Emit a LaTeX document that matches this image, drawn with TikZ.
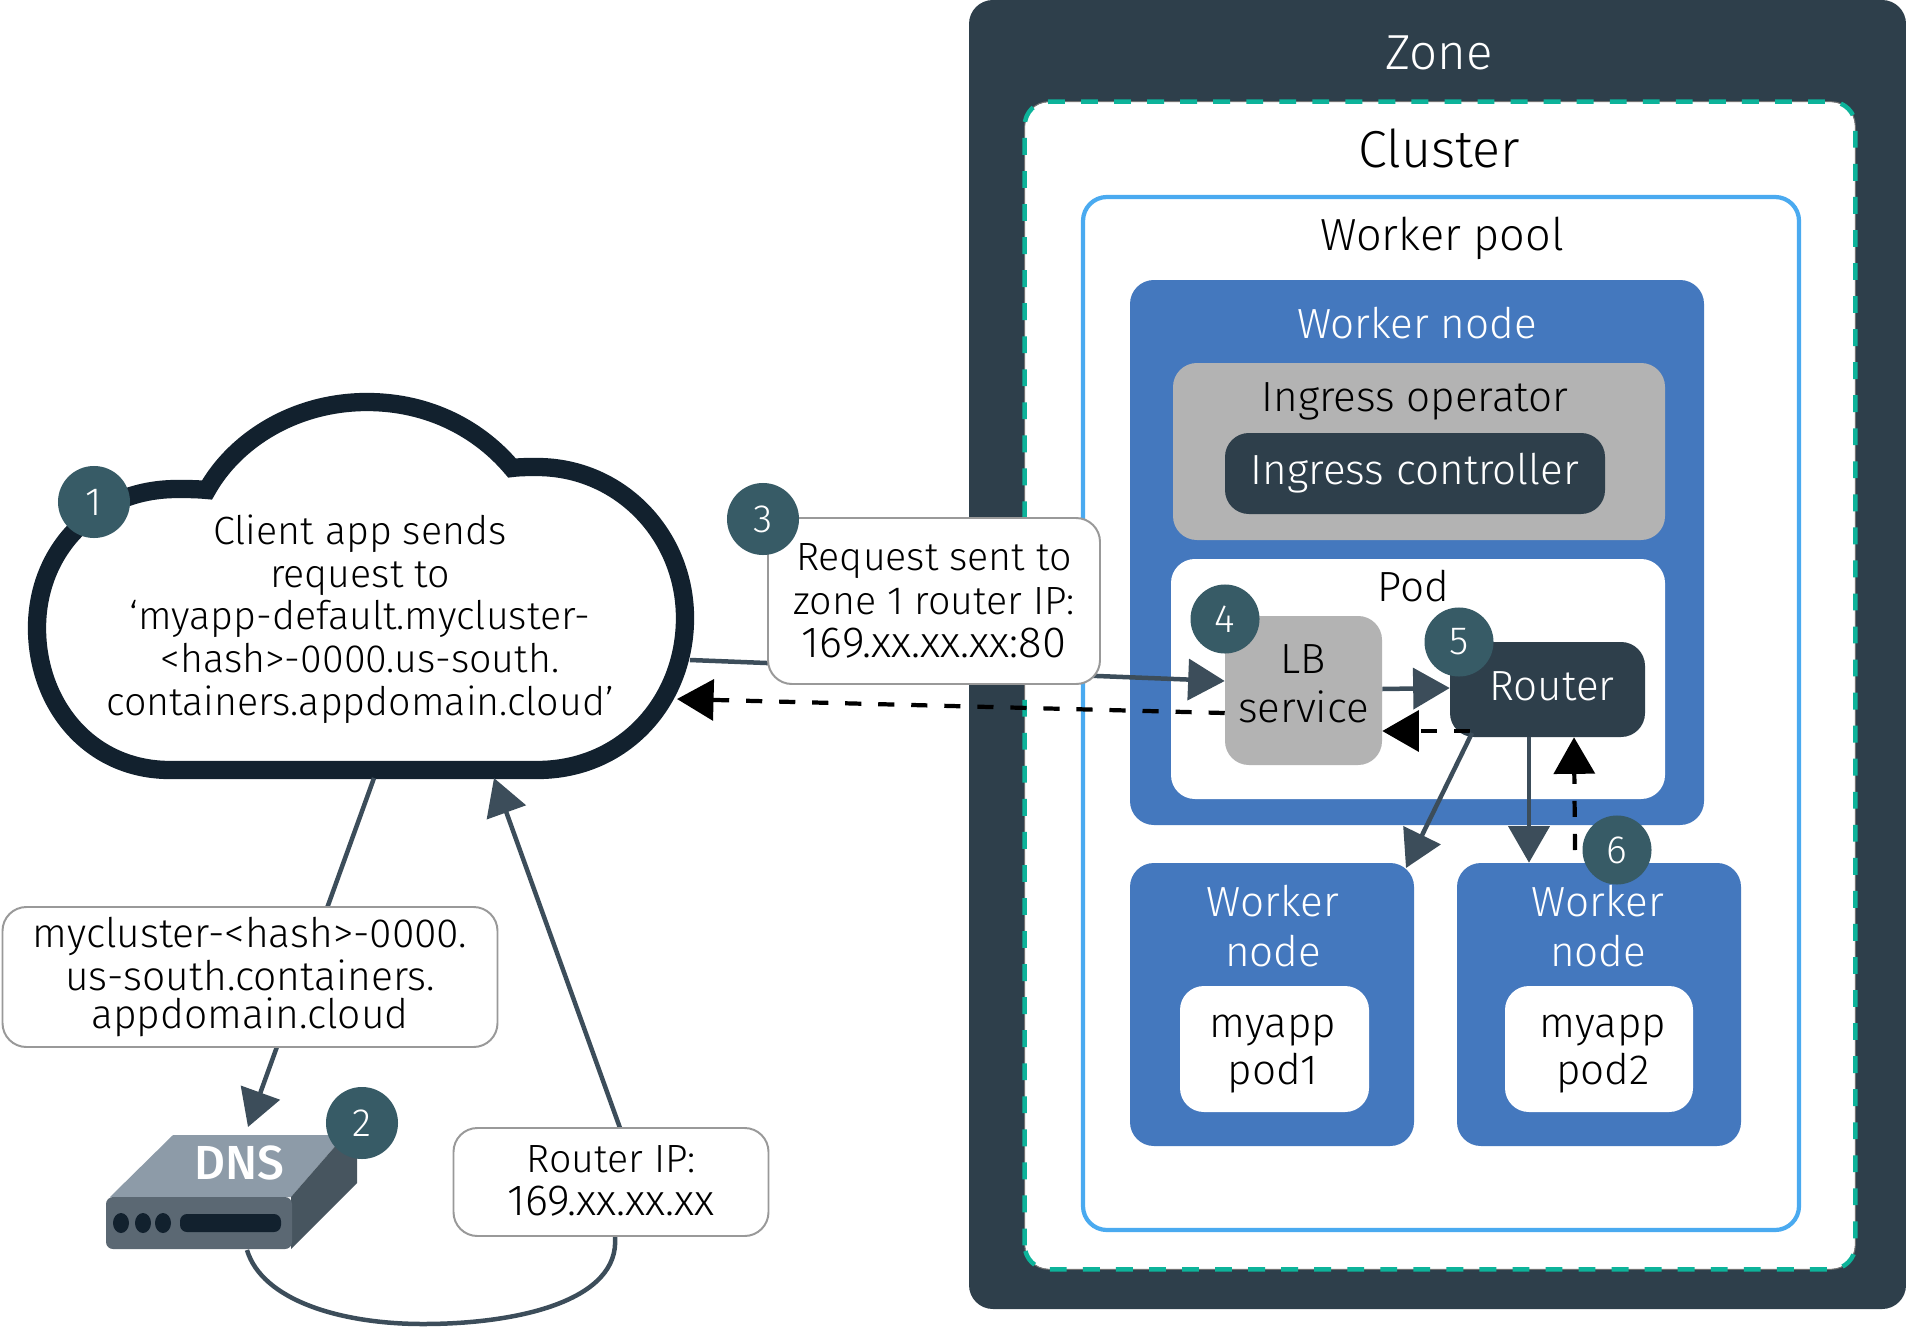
\documentclass[tikz,border=0pt]{standalone}
\usepackage{fontspec}
\setmainfont{Fira Sans Light}[BoldFont={Fira Sans Medium}]
\usetikzlibrary{arrows.meta}

\definecolor{zonedark}{HTML}{2E3F4B}
\definecolor{clusterteal}{HTML}{0DB39A}
\definecolor{poolblue}{HTML}{4AAAF0}
\definecolor{nodeblue}{HTML}{4478BE}
\definecolor{opgrey}{HTML}{B3B3B3}
\definecolor{badgeteal}{HTML}{375B66}
\definecolor{cloudink}{HTML}{12212E}
\definecolor{wiregrey}{HTML}{3C4D5A}
\definecolor{dnstop}{HTML}{8D9BA8}
\definecolor{dnsside}{HTML}{47555F}
\definecolor{dnsfront}{HTML}{5B6873}

\newcommand{\fsize}[2]{\fontsize{#1}{#2}\selectfont}

\begin{document}
\begin{tikzpicture}[x=0.025cm, y=-0.025cm,
  wh/.style 2 args = {minimum width=#1*0.025cm, minimum height=#2*0.025cm,
    inner sep=0pt, align=center},
  panel/.style = {shape=rectangle, rounded corners=17pt},
  callout/.style = {panel, draw=black!40, line width=1.4pt, fill=white},
  badge/.style = {shape=circle, fill=badgeteal, text=white, inner sep=0pt,
    minimum size=#1*0.05cm, font=\fsize{28}{32}},
  badge/.default = 36,
  wire/.style = {draw=wiregrey, line width=3.2pt,
    -{Triangle[length=26pt, width=29pt]}},
  plainwire/.style = {draw=wiregrey, line width=3.2pt},
  back/.style = {draw=black, line width=3pt, dash pattern=on 11.5pt off 12pt,
    -{Triangle[length=26pt, width=29pt]}}]
  \useasboundingbox (0,0) rectangle (1906,1327);

  % ends of the connectors
  \coordinate (cloudout) at (374,778);
  \coordinate (cloudin) at (494,778);
  \coordinate (cloudright) at (690,660);
  \coordinate (cloudback) at (677,699);
  \coordinate (dnsin) at (248,1127);
  \coordinate (dnsout) at (247,1250);
  \coordinate (sixout) at (1575,850);
  \coordinate (oneedge) at (1406,868);

  % zone and the boxes in it
  \node[panel, fill=zonedark, wh={937}{1309}] (zone) at (1437.5,654.5) {};
  \node[panel, fill=white, wh={830}{1167}] (cluster) at (1440,685.5) {};
  \draw[black!55, line width=0.7pt, rounded corners=17pt]
    (cluster.south west) rectangle (cluster.north east);
  \draw[clusterteal, line width=3.2pt, dash pattern=on 12pt off 11.5pt, rounded corners=17pt]
    (cluster.south west) rectangle (cluster.north east);
  \node[panel, fill=white, draw=poolblue, line width=3pt, wh={716}{1033}] (pool) at (1441,713.5) {};
  \node[panel, fill=nodeblue, wh={574}{545}] (topnode) at (1417,552.5) {};
  \node[panel, fill=opgrey, wh={492}{177}] (operator) at (1419,451.5) {};
  \node[panel, fill=zonedark, text=white, wh={380}{81}, font=\fsize{30}{34}] (controller) at (1415,473.5) {Ingress controller};
  \node[panel, fill=white, wh={494}{240}] (pod) at (1418,679) {};
  \node[panel, fill=opgrey, wh={157}{149}] (lb) at (1303.5,690.5) {};
  \node[panel, fill=zonedark, wh={195}{95}] (router) at (1547.5,689.5) {};

  \node[panel, fill=nodeblue, wh={284}{283}] (nodeone) at (1272,1004.5) {};
  \node[panel, fill=nodeblue, wh={284}{283}] (nodetwo) at (1599,1004.5) {};
  \node[panel, fill=white, wh={189}{126}] (podone) at (1274.5,1049) {};
  \node[panel, fill=white, wh={188}{126}] (podtwo) at (1599,1049) {};

  \node[text=white, font=\fsize{35}{40}] (zonetitle) at (1439,53) {Zone};
  \node[font=\fsize{37}{42}] (clustertitle) at (1439,148) {Cluster};
  \node[font=\fsize{32}{38}] (pooltitle) at (1442,238) {Worker pool};
  \node[text=white, font=\fsize{30}{35}] (topnodetitle) at (1417,323) {Worker node};
  \node[font=\fsize{30}{35}] (operatortitle) at (1415,401) {Ingress operator};
  \node[font=\fsize{30}{35}] (podtitle) at (1413,586) {Pod};
  \node[text=white, align=center, font=\fsize{30}{35}] (onetitle) at (1273,926) {Worker\\node};
  \node[text=white, align=center, font=\fsize{30}{35}] (twotitle) at (1598,926) {Worker\\node};
  \node[align=center, font=\fsize{30}{35}] (lbtext) at (1303.5,684) {LB\\service};
  \node[text=white, font=\fsize{30}{35}] (routertext) at (1552,686) {Router};
  \node[align=center, font=\fsize{30}{34}] (podonetext) at (1273,1054) {myapp\\pod1};
  \node[align=center, font=\fsize{30}{34}] (podtwotext) at (1603,1054) {myapp\\pod2};

  % cloud
  \draw[cloudink, fill=white, line width=13pt] (170,770) -- (537,770)
    .. controls (625,770) and (685,700) .. (685,618)
    .. controls (685,535) and (620,467) .. (537,467)
    .. controls (528,467) and (520,467) .. (512,468)
    .. controls (480,430) and (430,402) .. (367,402)
    .. controls (295,402) and (235,440) .. (207,490)
    .. controls (197,489) and (187,489) .. (177,489)
    .. controls (95,489) and (37,550) .. (37,628)
    .. controls (37,705) and (90,770) .. (170,770) -- cycle;
  \node[align=center, font=\fsize{28}{30.3}] (cloudtext) at (360,619)
    {Client app sends\\request to\\‘myapp-default.mycluster-\\<hash>-0000.us-south.\\containers.appdomain.cloud’};

  % dns box
  \fill[dnstop] (173,1135) -- (345,1135) -- (291,1197) -- (110,1197) -- cycle;
  \fill[dnsside] (345,1135) -- (357,1153) -- (357,1183) -- (291,1249) -- (291,1197) -- cycle;
  \fill[dnsfront, rounded corners=5pt] (106,1197) rectangle (292,1249);
  \fill[cloudink] (121,1223) ellipse (8 and 10) (143,1223) ellipse (8 and 10) (163,1223) ellipse (8 and 10);
  \fill[cloudink, rounded corners=5pt] (180,1214) rectangle (281,1232);
  \node[text=white, font=\bfseries\fsize{34}{38}] (dnstext) at (239,1163) {DNS};

  % connectors under the callouts
  \draw[wire] (cloudout) -- (dnsin);
  \draw[plainwire] (dnsout) .. controls (262,1300) and (340,1324) .. (423,1324)
    .. controls (520,1324) and (620,1300) .. (615,1237);
  \draw[wire] (620,1128) -- (cloudin);
  \draw[wire] (cloudright) -- (lb.west |- 0,681);
  \draw[back] (lb.west |- 0,713) -- (cloudback);
  \draw[wire] (lb.east |- 0,689) -- (router.west |- 0,688);
  \draw[back] (1470,731) -- (lb.east |- 0,731);
  \draw[wire] (1472,733) -- (oneedge);
  \draw[wire] (router.south -| 1529,0) -- (nodetwo.north -| 1529,0);
  \draw[back] (sixout) -- (router.south -| 1574,0);

  \node[callout, wh={495}{140}, font=\fsize{29}{30}] (urlbox) at (250,977)
    {mycluster-<hash>-0000.\\[0.5pt]us-south.containers.\\[-3.5pt]appdomain.cloud};
  \node[callout, wh={315}{108}] (ipbox) at (611,1182) {};
  \node[align=center, font=\fsize{28}{31}] (iptext) at (611,1181) {Router IP:\\{\fsize{31}{31}169.xx.xx.xx}};
  \node[callout, wh={332}{166}, font=\fsize{28}{31}] (requestbox) at (934,601)
    {Request sent to\\zone 1 router IP:\\{\fsize{31}{31}169.xx.xx.xx:80}};

  \node[badge] (stepone) at (94,502) {1};
  \node[badge] (steptwo) at (362,1123) {2};
  \node[badge] (stepthree) at (763,519) {3};
  \node[badge=34.5] (stepfour) at (1225,619) {4};
  \node[badge=34.5] (stepfive) at (1459,642) {5};
  \node[badge=34.5] (stepsix) at (1617,850) {6};
\end{tikzpicture}
\end{document}
